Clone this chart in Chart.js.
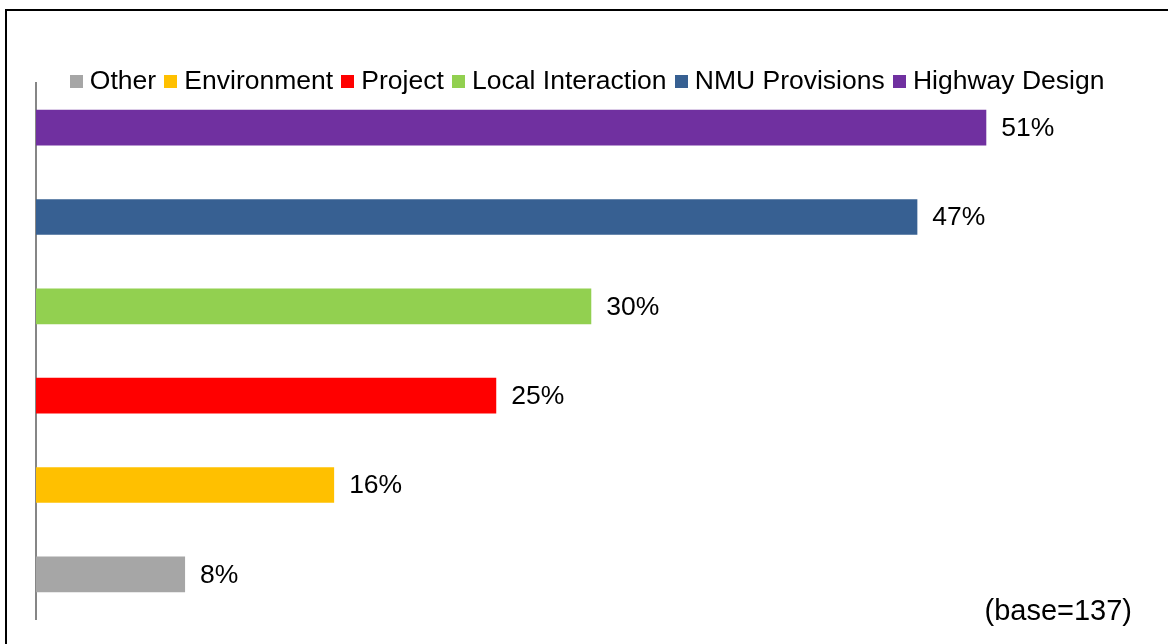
<!DOCTYPE html>
<html>
<head>
<meta charset="utf-8">
<script src="https://cdn.jsdelivr.net/npm/chart.js@4"></script>
<style>
  html, body { margin: 0; padding: 0; background: #fff; overflow: hidden; }
  #wrap { position: relative; width: 1168px; height: 644px; }
  #frame { position: absolute; left: 5px; top: 9px; width: 1300px; height: 800px; border: 2px solid #000; }
  #chart { position: absolute; left: 0; top: 0; }
</style>
</head>
<body>
<div id="wrap">
  <div id="frame"></div>
  <canvas id="chart" width="1168" height="644"></canvas>
</div>
<script>
// categories, bottom to top (also the legend order)
const categories = ['Other', 'Environment', 'Project', 'Local Interaction', 'NMU Provisions', 'Highway Design'];
// bar lengths (labels show them rounded)
const values = [8.0, 16.0, 24.7, 29.8, 47.3, 51.0];
const colors = ['#A6A6A6', '#FFC000', '#FF0000', '#92D050', '#376092', '#7030A0'];
const baseNote = '(base=137)';

const fontFamily = '"Liberation Sans", Arial, sans-serif';
const fontSize = 26.5;

// one dataset per category so each one shows in the legend
const datasets = categories.map((cat, i) => ({
  label: cat,
  data: categories.map(c => c === cat ? values[i] : null),
  backgroundColor: colors[i],
  categoryPercentage: 1,
  barPercentage: 0.4
}));

// small square swatch for the legend
function swatch(color) {
  const c = document.createElement('canvas');
  c.width = 13;
  c.height = 13;
  const g = c.getContext('2d');
  g.fillStyle = color;
  g.fillRect(0, 0, 13, 13);
  return c;
}

const valueLabels = {
  id: 'valueLabels',
  // legend sits partly over the plot top, so give its box back its full height for drawing
  afterLayout(chart) {
    const lg = chart.legend;
    lg.height = 50;
    lg.bottom = lg.top + 50;
  },
  afterDatasetsDraw(chart) {
    const ctx = chart.ctx;
    ctx.save();
    ctx.font = `${fontSize}px ${fontFamily}`;
    ctx.fillStyle = '#000';
    ctx.textBaseline = 'middle';
    ctx.textAlign = 'left';
    chart.data.datasets.forEach((ds, di) => {
      chart.getDatasetMeta(di).data.forEach((bar, j) => {
        const v = ds.data[j];
        if (v == null) return;
        ctx.fillText(Math.round(v) + '%', bar.x + 15, bar.y + 1);
      });
    });
    ctx.font = `29px ${fontFamily}`;
    ctx.textAlign = 'right';
    ctx.fillText(baseNote, 1132, 612);
    ctx.restore();
  }
};

const ctx = document.getElementById('chart');
new Chart(ctx, {
  type: 'bar',
  data: { labels: categories, datasets: datasets },
  options: {
    indexAxis: 'y',
    responsive: false,
    animation: false,
    layout: { padding: { top: 54, left: 26, right: 14, bottom: 25 } },
    scales: {
      x: { display: false, stacked: true, min: 0, max: 60 },
      y: {
        stacked: true,
        reverse: true,
        grid: { display: false, drawTicks: false },
        ticks: { display: false },
        border: { display: true, color: '#868686', width: 2 },
        afterFit(scale) { scale.width = 10; }
      }
    },
    plugins: {
      tooltip: { enabled: false },
      legend: {
        position: 'top',
        maxHeight: 29,
        labels: {
          usePointStyle: true,
          boxWidth: 1,
          padding: 14,
          color: '#000',
          font: { family: fontFamily, size: fontSize },
          generateLabels(chart) {
            const items = Chart.defaults.plugins.legend.labels.generateLabels(chart);
            items.forEach((it, i) => { it.pointStyle = swatch(colors[i]); });
            return items;
          }
        }
      }
    }
  },
  plugins: [valueLabels]
});
</script>
</body>
</html>
